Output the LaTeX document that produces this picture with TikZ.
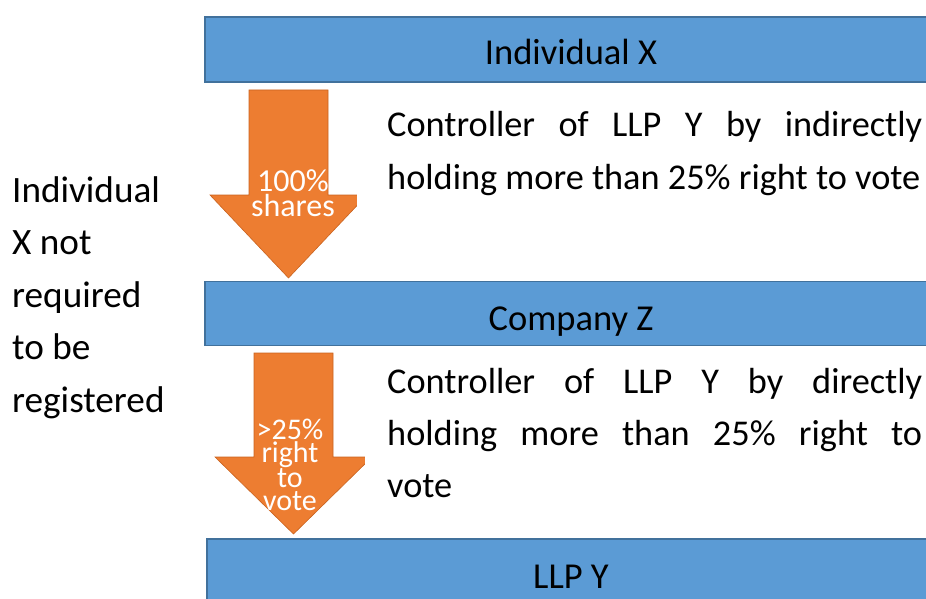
\documentclass[tikz,border=0pt]{standalone}
\usepackage{fontspec}
\setmainfont{Carlito}
\definecolor{barblue}{HTML}{5B9BD5}
\definecolor{barline}{HTML}{41719C}
\definecolor{arroworange}{HTML}{ED7D31}
\definecolor{arrowline}{HTML}{C9631F}
\tikzset{
  bar/.style={fill=barblue, draw=barline, line width=1.3pt},
  blockarrow/.style={fill=arroworange, draw=arrowline, line width=0.6pt},
  barlabel/.style={anchor=base, inner sep=0pt, font=\fontsize{36.5}{40}\selectfont},
  arrowlabel/.style={anchor=base, inner sep=0pt, text=white},
  sidetext/.style={anchor=base west, inner sep=0pt, font=\fontsize{37.2}{40}\selectfont},
  note/.style={anchor=base west, inner sep=0pt, font=\fontsize{36.3}{40}\selectfont},
}
\newcommand{\justline}[1]{\makebox[535pt][s]{#1}}
% stacked label whose baseline is that of its first line
\newcommand{\stacklabel}[3]{\parbox[t]{110pt}{\centering\fontsize{#1}{#2}\selectfont #3}}
\begin{document}
\begin{tikzpicture}[x=1pt,y=-1pt]
\useasboundingbox (0,0) rectangle (926,599);
\clip (0,0) rectangle (926,599);

% the three entities
\path[bar] (205,17) rectangle (940,82);
\path[bar] (205,281.5) rectangle (940,345.5);
\path[bar] (207,539) rectangle (940,610);
\node[barlabel] (indx) at (571,65) {Individual X};
\node[barlabel] (compz) at (571,330) {Company Z};
\node[barlabel] (llpy) at (571,588) {LLP Y};

% ownership arrows
\path[blockarrow] (249,90) -- (328,90) -- (328,195) -- (367,195) -- (288.5,278)
  -- (210,195) -- (249,195) -- cycle;
\path[blockarrow] (254,353) -- (333,353) -- (333,457) -- (372,457) -- (293.5,534)
  -- (215,457) -- (254,457) -- cycle;

% white text areas to the right of the arrows
\fill[white] (357,86) rectangle (926,279);
\fill[white] (365,346.2) rectangle (926,537);

% arrow labels
\node[arrowlabel] (a1) at (293,191.7) {\stacklabel{32}{25.3}{100\%\\shares}};
\node[arrowlabel] (b1) at (290,439) {\stacklabel{30}{23}{>25\%\\right\\to\\vote}};

% descriptions
\node[note] (d1) at (387,137) {\justline{Controller of LLP Y by indirectly}};
\node[note] (d2) at (387,189) {holding more than 25\% right to vote};
\node[note] (e1) at (387,393) {\justline{Controller of LLP Y by directly}};
\node[note] (e2) at (387,445) {\justline{holding more than 25\% right to}};
\node[note] (e3) at (387,497) {vote};

% side remark
\node[sidetext] (s1) at (12,202) {Individual};
\node[sidetext] (s2) at (12,254.5) {X not};
\node[sidetext] (s3) at (12,307) {required};
\node[sidetext] (s4) at (12,359.5) {to be};
\node[sidetext] (s5) at (12,412) {registered};
\end{tikzpicture}
\end{document}
